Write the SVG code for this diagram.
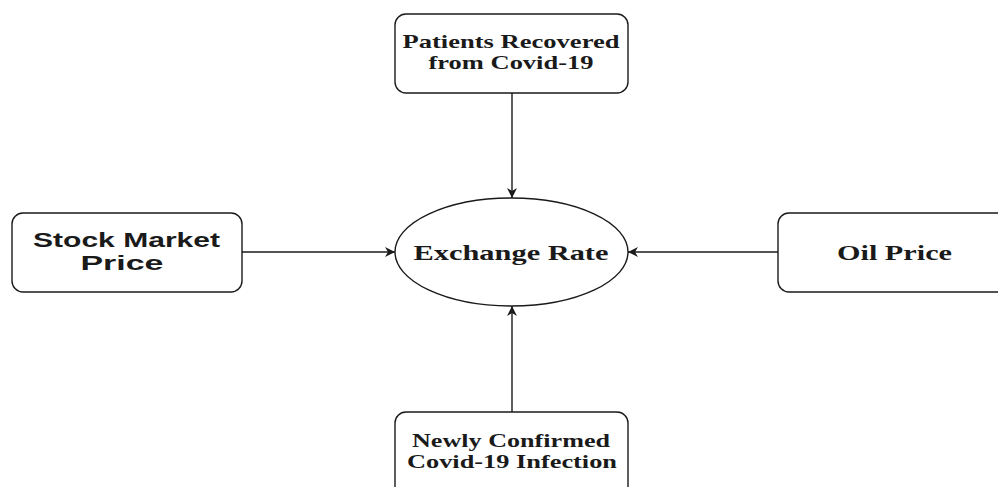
<svg xmlns="http://www.w3.org/2000/svg" width="998" height="487" viewBox="0 0 998 487">
<style>
.box{fill:#fff;stroke:#1a1a1a;stroke-width:1.4}
.serif{font-family:"Liberation Serif","Times New Roman",serif;font-weight:bold;font-size:21px;fill:#1a1a1a;text-anchor:middle}
.small{font-size:19px}
.sans{font-family:"Liberation Sans",Arial,sans-serif;font-weight:bold;font-size:20px;fill:#1a1a1a;text-anchor:middle}
.edge{stroke:#1a1a1a;stroke-width:1.4;fill:none;marker-end:url(#arr)}
</style>
<defs>
<marker id="arr" viewBox="0 0 10 10" refX="10" refY="5" markerWidth="10" markerHeight="10" markerUnits="userSpaceOnUse" orient="auto">
<path d="M0,0 L10,5 L0,10 L3,5 Z" fill="#1a1a1a"/>
</marker>
</defs>
<rect width="998" height="487" fill="#fff"/>
<g id="connectors">
<line class="edge" x1="512" y1="93" x2="512" y2="198"/>
<line class="edge" x1="242" y1="252" x2="395" y2="252"/>
<line class="edge" x1="778" y1="252" x2="628" y2="252"/>
<line class="edge" x1="512" y1="412" x2="512" y2="306"/>
</g>
<g id="exchange">
<ellipse class="box" cx="511.5" cy="252" rx="116.5" ry="54"/>
<text class="serif" x="511" y="260" textLength="195" lengthAdjust="spacingAndGlyphs">Exchange Rate</text>
</g>
<g id="recovered">
<rect class="box" x="395" y="14" width="233" height="79" rx="11"/>
<text class="serif small" x="511" y="48" textLength="217" lengthAdjust="spacingAndGlyphs">Patients Recovered</text>
<text class="serif small" x="511" y="69" textLength="165" lengthAdjust="spacingAndGlyphs">from Covid-19</text>
</g>
<g id="stock">
<rect class="box" x="12" y="213" width="230" height="79" rx="11"/>
<text class="sans" x="126.5" y="247" textLength="187" lengthAdjust="spacingAndGlyphs">Stock Market</text>
<text class="sans" x="122" y="270" textLength="83" lengthAdjust="spacingAndGlyphs">Price</text>
</g>
<g id="oil">
<rect class="box" x="778" y="213" width="232" height="79" rx="11"/>
<text class="serif" x="894.5" y="260" textLength="115" lengthAdjust="spacingAndGlyphs">Oil Price</text>
</g>
<g id="infection">
<rect class="box" x="395" y="412" width="233" height="90" rx="11"/>
<text class="serif small" x="511" y="447" textLength="198" lengthAdjust="spacingAndGlyphs">Newly Confirmed</text>
<text class="serif small" x="512" y="468" textLength="210" lengthAdjust="spacingAndGlyphs">Covid-19 Infection</text>
</g>
</svg>
